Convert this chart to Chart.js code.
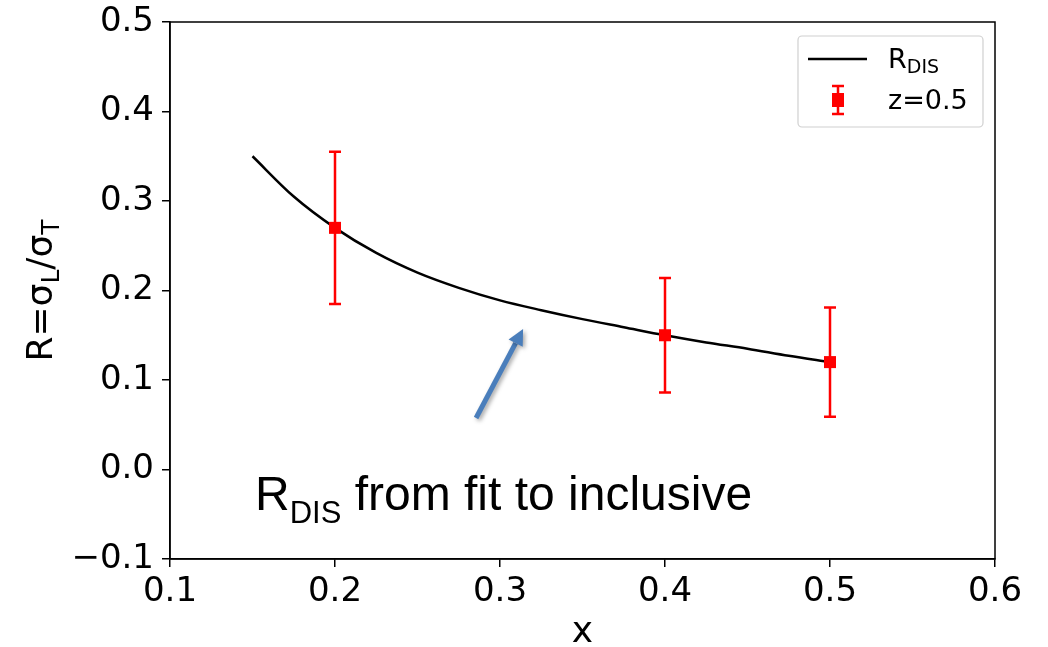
<!DOCTYPE html>
<html>
<head>
<meta charset="utf-8">
<script src="https://cdn.jsdelivr.net/npm/chart.js@4/dist/chart.umd.min.js"></script>
<style>
    body { margin: 0; background: #fff; }
    #wrapper { width: 1048px; height: 647px; }
</style>
</head>
<body>
<div id="wrapper"><canvas id="canvas1" width="1048" height="647"></canvas></div>
<script>
"use strict"

// curva R_DIS (fit inclusivo)
const curveX = [0.15, 0.175, 0.2, 0.225, 0.25, 0.275, 0.3, 0.325, 0.35, 0.375, 0.4, 0.425, 0.45, 0.475, 0.5];
const curveY = [0.350, 0.305, 0.270, 0.242, 0.220, 0.203, 0.189, 0.178, 0.168, 0.159, 0.150, 0.142, 0.135, 0.127, 0.120];

// punti z=0.5 con errore
const puntiX = [0.2, 0.4, 0.5];
const puntiY = [0.27, 0.15, 0.12];
const puntiErr = [0.085, 0.064, 0.061];

// assi
const xRange = [0.1, 0.6];
const yRange = [-0.1, 0.5];
const passoTick = 0.1;

// freccia e scritta (coordinate dati)
const frecciaDa = [0.2855, 0.0575];
const frecciaA = [0.314, 0.157];
const notaPos = [0.1515, -0.0455];

const FONT = "'DejaVu Sans'";
const ROSSO = "#ff0000";

function etichettaTick(v) {
    let s = Math.abs(v).toFixed(1);
    return v < -1e-9 ? "\u2212" + s : s;
}

// scrive testo con pedice, restituisce la larghezza
function testoPedice(ctx, x, y, base, sub, dopo, size, subSize, drop, family, misura) {
    ctx.font = size + "px " + family;
    let w1 = ctx.measureText(base).width;
    ctx.font = subSize + "px " + family;
    let w2 = ctx.measureText(sub).width;
    ctx.font = size + "px " + family;
    let w3 = dopo ? ctx.measureText(dopo).width : 0;
    if (misura) return w1 + w2 + w3;
    ctx.font = size + "px " + family;
    ctx.fillText(base, x, y);
    ctx.font = subSize + "px " + family;
    ctx.fillText(sub, x + w1, y + drop);
    if (dopo) {
        ctx.font = size + "px " + family;
        ctx.fillText(dopo, x + w1 + w2, y);
    }
    return w1 + w2 + w3;
}

const barreErrore = {
    id: "barreErrore",
    beforeDatasetsDraw(chart) {
        let ctx = chart.ctx;
        let xs = chart.scales.x, ys = chart.scales.y;
        ctx.save();
        ctx.strokeStyle = ROSSO;
        ctx.lineWidth = 2.5;
        for (let i = 0; i < puntiX.length; i++) {
            let px = xs.getPixelForValue(puntiX[i]);
            let top = ys.getPixelForValue(puntiY[i] + puntiErr[i]);
            let bot = ys.getPixelForValue(puntiY[i] - puntiErr[i]);
            ctx.beginPath();
            ctx.moveTo(px, top); ctx.lineTo(px, bot);
            ctx.moveTo(px - 6, top); ctx.lineTo(px + 6, top);
            ctx.moveTo(px - 6, bot); ctx.lineTo(px + 6, bot);
            ctx.stroke();
        }
        ctx.restore();
    }
};

const decorazioni = {
    id: "decorazioni",
    afterDraw(chart) {
        let ctx = chart.ctx;
        let a = chart.chartArea;
        let xs = chart.scales.x, ys = chart.scales.y;
        ctx.save();

        // cornice
        ctx.strokeStyle = "#000";
        ctx.lineWidth = 1.5;
        ctx.strokeRect(a.left, a.top, a.right - a.left, a.bottom - a.top);

        // titolo asse y ruotato
        ctx.fillStyle = "#000";
        ctx.textBaseline = "alphabetic";
        ctx.textAlign = "left";
        let cy = (a.top + a.bottom) / 2;
        ctx.save();
        ctx.translate(52, cy);
        ctx.rotate(-Math.PI / 2);
        let w1 = testoPedice(ctx, 0, 0, "R=\u03c3", "L", "/\u03c3", 36, 25, 7, FONT, true);
        ctx.font = "25px " + FONT;
        let wT = ctx.measureText("T").width;
        let x0 = -(w1 + wT) / 2;
        let w = testoPedice(ctx, x0, 0, "R=\u03c3", "L", "/\u03c3", 36, 25, 7, FONT, false);
        ctx.font = "25px " + FONT;
        ctx.fillText("T", x0 + w, 7);
        ctx.restore();

        // freccia
        let fx0 = xs.getPixelForValue(frecciaDa[0]), fy0 = ys.getPixelForValue(frecciaDa[1]);
        let fx1 = xs.getPixelForValue(frecciaA[0]), fy1 = ys.getPixelForValue(frecciaA[1]);
        let ang = Math.atan2(fy1 - fy0, fx1 - fx0);
        let lung = 16, larg = 8;
        let bx = fx1 - lung * Math.cos(ang), by = fy1 - lung * Math.sin(ang);
        ctx.save();
        ctx.shadowColor = "rgba(0,0,0,0.35)";
        ctx.shadowBlur = 4;
        ctx.shadowOffsetX = 2;
        ctx.shadowOffsetY = 2;
        ctx.strokeStyle = "#4a7ebb";
        ctx.fillStyle = "#4a7ebb";
        ctx.lineWidth = 5;
        ctx.beginPath();
        ctx.moveTo(fx0, fy0); ctx.lineTo(bx, by);
        ctx.stroke();
        ctx.beginPath();
        ctx.moveTo(fx1, fy1);
        ctx.lineTo(bx + larg * Math.sin(ang), by - larg * Math.cos(ang));
        ctx.lineTo(bx - larg * Math.sin(ang), by + larg * Math.cos(ang));
        ctx.closePath();
        ctx.fill();
        ctx.restore();

        // scritta
        ctx.fillStyle = "#000";
        testoPedice(ctx, xs.getPixelForValue(notaPos[0]), ys.getPixelForValue(notaPos[1]),
            "R", "DIS", " from fit to inclusive", 48, 31, 13, "'Liberation Sans', Arial", false);

        // legenda
        let lx = a.right - 197, ly = a.top + 14, lw = 185, lh = 91;
        ctx.fillStyle = "rgba(255,255,255,0.8)";
        ctx.strokeStyle = "#d0d0d0";
        ctx.lineWidth = 1.2;
        ctx.beginPath();
        ctx.roundRect(lx, ly, lw, lh, 4);
        ctx.fill();
        ctx.stroke();

        ctx.strokeStyle = "#000";
        ctx.lineWidth = 2.5;
        ctx.beginPath();
        ctx.moveTo(lx + 10, ly + 23); ctx.lineTo(lx + 69, ly + 23);
        ctx.stroke();

        let ex = lx + 40, ey = ly + 64;
        ctx.strokeStyle = ROSSO;
        ctx.beginPath();
        ctx.moveTo(ex, ey - 14); ctx.lineTo(ex, ey + 14);
        ctx.moveTo(ex - 6, ey - 14); ctx.lineTo(ex + 6, ey - 14);
        ctx.moveTo(ex - 6, ey + 14); ctx.lineTo(ex + 6, ey + 14);
        ctx.stroke();
        ctx.fillStyle = ROSSO;
        ctx.fillRect(ex - 6, ey - 7, 12, 14);

        ctx.fillStyle = "#000";
        testoPedice(ctx, lx + 90, ly + 32, "R", "DIS", "", 27, 19, 5, FONT, false);
        ctx.font = "27px " + FONT;
        ctx.fillText("z=0.5", lx + 90, ly + 73);

        ctx.restore();
    }
};

const chartOptions = {
    type: "scatter",
    data: {
        datasets: [{
            label: "R_DIS",
            data: curveX.map((x, i) => ({ x: x, y: curveY[i] })),
            showLine: true,
            borderColor: "#000",
            borderWidth: 2.5,
            pointRadius: 0,
            cubicInterpolationMode: "monotone",
            order: 2
        }, {
            label: "z=0.5",
            data: puntiX.map((x, i) => ({ x: x, y: puntiY[i] })),
            pointStyle: "rect",
            pointRadius: 8.5,
            backgroundColor: ROSSO,
            borderColor: ROSSO,
            borderWidth: 0,
            order: 1
        }]
    },
    options: {
        responsive: false,
        animation: false,
        devicePixelRatio: 1,
        layout: { padding: { left: 0, right: 53, top: 22, bottom: 0 } },
        plugins: { legend: { display: false }, tooltip: { enabled: false } },
        scales: {
            x: {
                type: "linear",
                min: xRange[0], max: xRange[1],
                afterFit: s => { s.height = 88; s.paddingLeft = 0; s.paddingRight = 0; },
                ticks: {
                    stepSize: passoTick,
                    color: "#000",
                    padding: 5,
                    font: { family: FONT, size: 34 },
                    callback: v => etichettaTick(v)
                },
                grid: { drawOnChartArea: false, tickLength: 8, color: "#000", lineWidth: 1.5 },
                border: { color: "#000", width: 1.5 },
                title: { display: true, text: "x", color: "#000", font: { family: FONT, size: 36, lineHeight: 0.8 }, padding: { top: 10, bottom: 0 } }
            },
            y: {
                type: "linear",
                min: yRange[0], max: yRange[1],
                afterFit: s => { s.width = 170; s.paddingTop = 0; s.paddingBottom = 0; },
                ticks: {
                    stepSize: passoTick,
                    color: "#000",
                    padding: 8,
                    font: { family: FONT, size: 34 },
                    callback: v => etichettaTick(v)
                },
                grid: { drawOnChartArea: false, tickLength: 8, color: "#000", lineWidth: 1.5 },
                border: { color: "#000", width: 1.5 }
            }
        }
    },
    plugins: [barreErrore, decorazioni]
};

let canvas1 = document.getElementById("canvas1");
let chart1 = new Chart(canvas1, chartOptions);
</script>
</body>
</html>
